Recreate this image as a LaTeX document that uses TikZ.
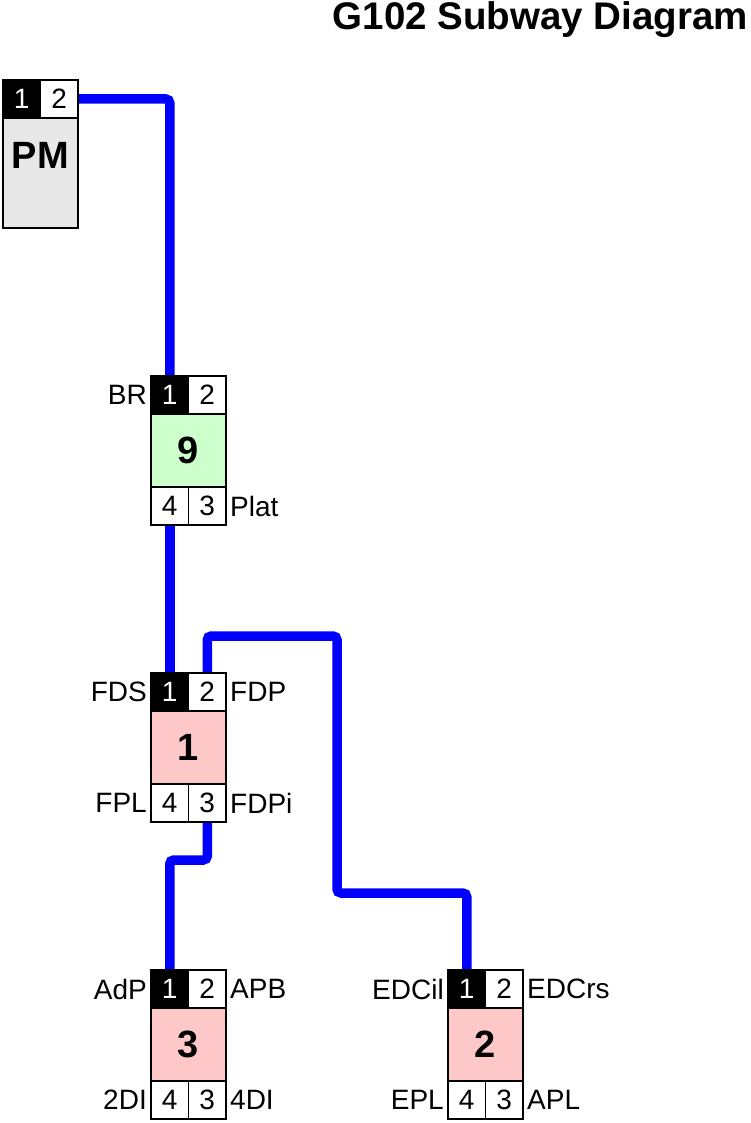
\documentclass[tikz,border=0pt]{standalone}
\usepackage{fontspec}
\setmainfont{Liberation Sans}
\usetikzlibrary{backgrounds}
\definecolor{bodypink}{RGB}{255,200,200}
\definecolor{bodygreen}{RGB}{204,255,204}
\definecolor{bodygrey}{RGB}{232,232,232}
\definecolor{wireblue}{RGB}{0,0,255}
\tikzset{
  cell/.style={draw=black, line width=1.4pt, minimum width=37.5pt, minimum height=38pt, inner sep=0pt, fill=white, font=\fontsize{28}{28}\selectfont},
  blackcell/.style={cell, fill=black, text=white},
  bodybox/.style={draw=black, line width=1.4pt, minimum width=75pt, minimum height=73pt, inner sep=0pt, font=\bfseries\fontsize{38}{38}\selectfont},
  plabel/.style={inner sep=0pt, font=\fontsize{28}{28}\selectfont},
  wire/.style={draw=wireblue, line width=9.5pt, rounded corners=4pt},
  titletext/.style={inner sep=0pt, font=\bfseries\fontsize{38.5}{38.5}\selectfont}
}
\newcommand{\mystation}[9]{%
  \node[blackcell] (#1p1) at ({#2+18.75},{#3+19}) {1};
  \node[cell] (#1p2) at ({#2+56.25},{#3+19}) {2};
  \node[bodybox, fill=#4] (#1b) at ({#2+37.5},{#3+74.5}) {#5};
  \node[cell] (#1p4) at ({#2+18.75},{#3+130}) {4};
  \node[cell] (#1p3) at ({#2+56.25},{#3+130}) {3};
  \node[plabel, anchor=east] (#1l1) at ({#2-4},{#3+19}) {#6};
  \node[plabel, anchor=west] (#1l2) at ({#2+79},{#3+19}) {#7};
  \node[plabel, anchor=east] (#1l4) at ({#2-4},{#3+130}) {#8};
  \node[plabel, anchor=west] (#1l3) at ({#2+79},{#3+130}) {#9};
}
\begin{document}
\begin{tikzpicture}[x=1pt,y=-1pt]
\useasboundingbox (0,0) rectangle (751,1123);
% title
\node[titletext, anchor=base east] (title) at (748,30) {G102 Subway Diagram};
% PM
\node[draw=black, line width=1.4pt, fill=bodygrey, minimum width=75pt, minimum height=111pt, inner sep=0pt] (pmb) at (40.5,172.5) {};
\node[inner sep=0pt, font=\bfseries\fontsize{38}{38}\selectfont] (pmt) at (40.5,155.5) {PM};
\node[blackcell] (pmp1) at (21.75,99) {1};
\node[cell] (pmp2) at (59.25,99) {2};
% stations
\mystation{nine}{151}{376}{bodygreen}{9}{BR}{}{}{Plat}
\mystation{one}{151}{673}{bodypink}{1}{FDS}{FDP}{FPL}{FDPi}
\mystation{three}{151}{970}{bodypink}{3}{AdP}{APB}{2DI}{4DI}
\mystation{two}{448}{970}{bodypink}{2}{EDCil}{EDCrs}{EPL}{APL}
% routing points
\coordinate (ra) at (337,636);
\coordinate (rb) at (337,893);
\coordinate (rc) at (0,860);
% connectors
\begin{scope}[on background layer]
\draw[wire] (pmp2.east) -| (ninep1.north);
\draw[wire] (ninep4.south) -- (onep1.north);
\draw[wire] (onep2.north) -- (onep2.north |- ra) -- (ra) -- (rb) -- (rb -| twop1.north) -- (twop1.north);
\draw[wire] (onep3.south) -- (onep3.south |- rc) -- (threep1.north |- rc) -- (threep1.north);
\end{scope}
\end{tikzpicture}
\end{document}
